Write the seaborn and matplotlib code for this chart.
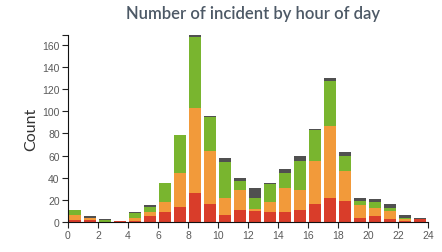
import pandas as pd
import matplotlib
matplotlib.use('Agg')
import matplotlib.pyplot as plt
import seaborn as sns

# Incident counts per hour, split by severity (bottom -> top)
hours = list(range(24))
red = [2, 2, 0, 1, 1, 5, 9, 14, 26, 16, 6, 11, 10, 9, 9, 11, 16, 22, 19, 4, 5, 3, 1, 3]
orange = [4, 2, 0, 0, 3, 4, 9, 30, 77, 48, 16, 18, 2, 9, 22, 18, 39, 65, 27, 11, 8, 7, 2, 0]
green = [5, 0, 2, 0, 4, 5, 17, 35, 64, 31, 32, 8, 10, 16, 13, 26, 28, 40, 14, 4, 5, 3, 1, 0]
gray = [0, 1, 1, 0, 1, 1, 0, 0, 2, 1, 4, 3, 9, 1, 4, 5, 1, 3, 3, 3, 3, 3, 2, 1]

colors = {'red': '#d93d2a', 'orange': '#f29a3a', 'green': '#79b52f', 'gray': '#505050'}

df = pd.DataFrame({'hour': hours, 'red': red, 'orange': orange,
                   'green': green, 'gray': gray})
df['x'] = df['hour'] + 0.5
# cumulative heights so overlaid bars look stacked
df['c_red'] = df['red']
df['c_orange'] = df['c_red'] + df['orange']
df['c_green'] = df['c_orange'] + df['green']
df['c_gray'] = df['c_green'] + df['gray']

sns.set_style('white')
plt.rcParams['font.family'] = ['Liberation Sans', 'DejaVu Sans']

fig = plt.figure(figsize=(4.42, 2.53), dpi=100)
ax = fig.add_axes([0.1538, 0.1186, 0.8145, 0.739])

for level in ['gray', 'green', 'orange', 'red']:
    sns.barplot(data=df, x='x', y='c_' + level, native_scale=True, width=0.8,
                color=colors[level], saturation=1, linewidth=0, ax=ax)

ax.set_xlim(0, 24)
ax.set_ylim(0, 169)
ax.set_xticks(range(0, 25, 2))
ax.set_yticks(range(0, 161, 20))
ax.set_yticks([169], minor=True)
ax.tick_params(axis='both', which='both', labelsize=7.5, colors='#222222',
               labelcolor='#5a5a5a', length=4, width=0.8, direction='out',
               bottom=True, left=True, pad=2)
sns.despine(ax=ax)
for s in ['left', 'bottom']:
    ax.spines[s].set_color('#111111')
    ax.spines[s].set_linewidth(0.8)

ax.set_xlabel('')
ax.set_ylabel('Count', fontsize=11.5, color='#333333', family='Lato', labelpad=3)
fig.suptitle('Number of incident by hour of day', x=0.573, y=0.975,
             fontsize=12, fontweight='semibold', color='#4d5966', family='Lato')

plt.savefig('out.png', dpi=100)
